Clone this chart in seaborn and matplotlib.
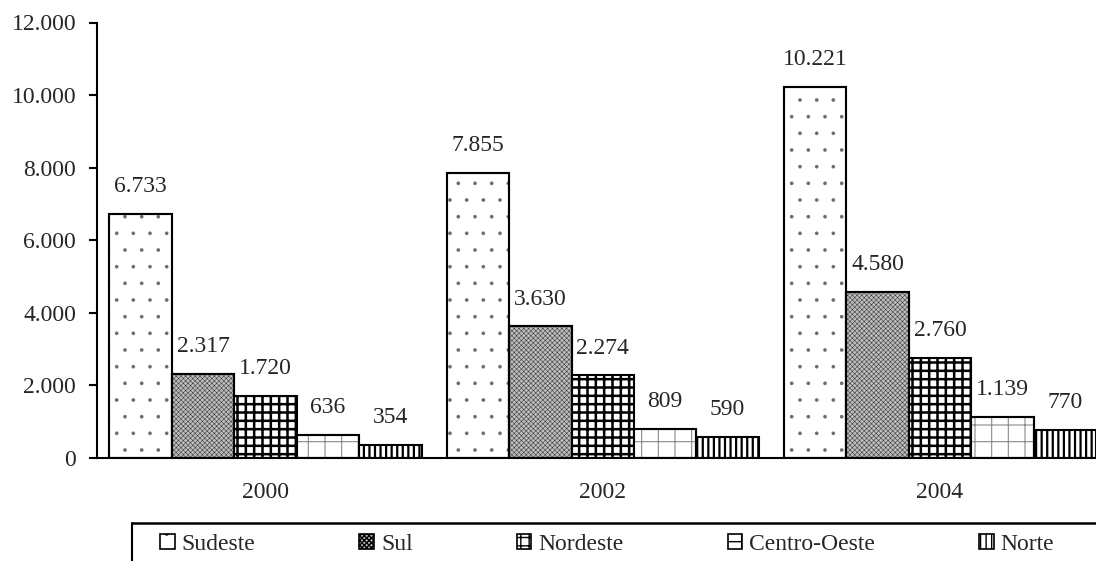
import numpy as np
import pandas as pd
import matplotlib
matplotlib.use('Agg')
import matplotlib.pyplot as plt
from matplotlib.lines import Line2D
from matplotlib.patches import Patch, Rectangle
import seaborn as sns

# data
years = ['2000', '2002', '2004']
regions = ['Sudeste', 'Sul', 'Nordeste', 'Centro-Oeste', 'Norte']
sudeste = [6733, 7855, 10221]
sul = [2317, 3630, 4580]
nordeste = [1720, 2274, 2760]
centro_oeste = [636, 809, 1139]
norte = [354, 590, 770]

df = pd.DataFrame({
    'ano': years * 5,
    'regiao': np.repeat(regions, 3),
    'valor': sudeste + sul + nordeste + centro_oeste + norte,
})

# fill, hatch, hatch linewidth, hatch colour per region
styles = {
    'Sudeste': ('white', '.', 0.2, '#6a6a6a'),
    'Sul': ('#bdbdbd', 'xxxxxxx', 0.35, '#303030'),
    'Nordeste': ('white', '++', 1.8, 'black'),
    'Centro-Oeste': ('white', '+', 0.8, '#8a8a8a'),
    'Norte': ('white', '|||', 1.6, 'black'),
}

sns.set_style('white')
plt.rcParams['font.family'] = ['Liberation Serif', 'DejaVu Serif']
plt.rcParams['hatch.linewidth'] = 1.0
FS = 17


def style_patch(p, reg):
    # hatch colour follows the edge colour, so lighter hatches get a gray edge
    # and a separate black outline on top
    p.set_hatch(styles[reg][1])
    p.set_edgecolor(styles[reg][3])
    if hasattr(p, 'set_hatch_linewidth'):
        p.set_hatch_linewidth(styles[reg][2])


fig = plt.figure(figsize=(10.96, 5.61), dpi=100)
ax = fig.add_axes([97 / 1096, 1 - 458 / 561, 1 - 97 / 1096, (458 - 22.5) / 561])

sns.barplot(data=df, x='ano', y='valor', hue='regiao', hue_order=regions,
            palette={r: styles[r][0] for r in regions}, width=0.926, gap=0,
            edgecolor='black', linewidth=1.5, legend=False, ax=ax)


def fmt(v):
    return f'{int(round(v)):,}'.replace(',', '.')


for cont, reg in zip(ax.containers, regions):
    for p in cont:
        style_patch(p, reg)
        if styles[reg][3] != 'black':
            ax.add_patch(Rectangle(p.get_xy(), p.get_width(), p.get_height(),
                                   fill=False, edgecolor='black', linewidth=1.5, zorder=p.get_zorder() + 0.1))
    ax.bar_label(cont, labels=[fmt(v) for v in cont.datavalues], padding=12, fontsize=FS)

ax.set_ylim(0, 12000)
ax.set_xlim(-0.5, 2.5 - 12.5 / 337)
ax.set_yticks(range(0, 12001, 2000))
ax.set_yticklabels([fmt(v) for v in range(0, 12001, 2000)], fontsize=FS)
ax.set_xticks(range(3))
ax.set_xticklabels(years, fontsize=FS)
ax.set_xticks([-0.5, 0.5, 1.5], minor=True)
ax.tick_params(axis='x', which='major', length=0, pad=17)
ax.tick_params(axis='x', which='minor', length=6, width=1.5, direction='out', color='black')
ax.tick_params(axis='y', length=6, width=1.5, direction='out', color='black', pad=9, left=True)
ax.set_xlabel('')
ax.set_ylabel('')
sns.despine(ax=ax, top=True, right=True)
for s in ['left', 'bottom']:
    ax.spines[s].set_linewidth(1.5)
    ax.spines[s].set_color('black')
    ax.spines[s].set_zorder(5)

# legend below, box cut off at right / bottom like the original
handles = []
for r in regions:
    h = Patch(facecolor=styles[r][0], linewidth=1.2)
    style_patch(h, r)
    h.set_edgecolor('black')
    handles.append(h)
leg = fig.legend(handles, regions, loc='center left', ncol=5, frameon=False,
                 bbox_to_anchor=(160 / 1096, 1 - 544 / 561), fontsize=FS,
                 handlelength=0.62, handleheight=0.62, handletextpad=0.3,
                 columnspacing=4.4, borderpad=0, borderaxespad=0)
fig.add_artist(Line2D([132 / 1096, 1], [1 - 523 / 561] * 2, color='black', lw=1.8,
                      transform=fig.transFigure))
fig.add_artist(Line2D([132 / 1096] * 2, [1 - 523 / 561, 0], color='black', lw=1.5,
                      transform=fig.transFigure))

fig.savefig('out.png', dpi=100)
